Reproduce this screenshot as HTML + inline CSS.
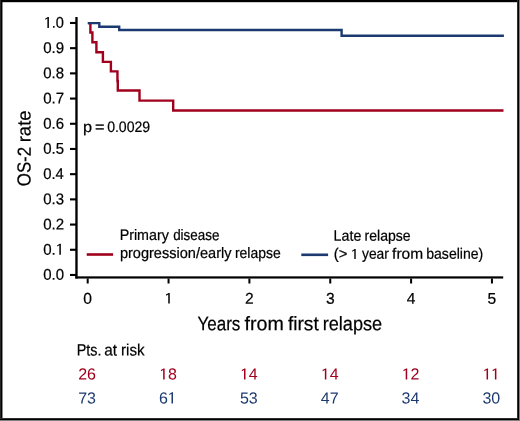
<!DOCTYPE html>
<html><head><meta charset="utf-8"><style>
html,body{margin:0;padding:0;background:#fff;overflow:hidden;}
svg{display:block;will-change:transform;text-rendering:geometricPrecision;font-family:"Liberation Sans", sans-serif;}
text[fill="#000"]{stroke:#000;stroke-width:0.22px;}
</style></head><body>
<svg width="520" height="421" viewBox="0 0 520 421" font-family='"Liberation Sans", sans-serif'><rect x="0" y="0" width="520" height="421" fill="#fff"/>
<rect x="0" y="0" width="520" height="2" fill="#000"/>
<rect x="0" y="2" width="520" height="1" fill="#000" fill-opacity="0.2"/>
<rect x="0" y="0" width="1" height="421" fill="#262626"/>
<rect x="1" y="0" width="1" height="421" fill="#000"/>
<rect x="2" y="2" width="1" height="417" fill="#000" fill-opacity="0.45"/>
<rect x="517" y="0" width="1" height="421" fill="#303030"/>
<rect x="518" y="0" width="1" height="421" fill="#000"/>
<rect x="519" y="0" width="1" height="421" fill="#808080"/>
<rect x="0" y="418" width="517" height="1" fill="#303030"/>
<rect x="0" y="419" width="519" height="1" fill="#000"/>
<rect x="0" y="420" width="520" height="1" fill="#808080"/>
<rect x="75.3" y="17" width="2.35" height="261.5" fill="#000"/>
<rect x="75.3" y="276.35" width="427.9" height="2.2" fill="#000"/>
<rect x="70" y="21.92" width="6" height="2.1" fill="#000"/>
<rect x="70" y="47.12" width="6" height="2.1" fill="#000"/>
<rect x="70" y="72.32" width="6" height="2.1" fill="#000"/>
<rect x="70" y="97.52" width="6" height="2.1" fill="#000"/>
<rect x="70" y="122.72" width="6" height="2.1" fill="#000"/>
<rect x="70" y="147.92" width="6" height="2.1" fill="#000"/>
<rect x="70" y="173.12" width="6" height="2.1" fill="#000"/>
<rect x="70" y="198.32" width="6" height="2.1" fill="#000"/>
<rect x="70" y="223.52" width="6" height="2.1" fill="#000"/>
<rect x="70" y="248.72" width="6" height="2.1" fill="#000"/>
<rect x="70" y="273.92" width="6" height="2.1" fill="#000"/>
<rect x="86.70" y="278.5" width="2" height="5" fill="#000"/>
<rect x="167.55" y="278.5" width="2" height="5" fill="#000"/>
<rect x="248.40" y="278.5" width="2" height="5" fill="#000"/>
<rect x="329.25" y="278.5" width="2" height="5" fill="#000"/>
<rect x="410.10" y="278.5" width="2" height="5" fill="#000"/>
<rect x="490.95" y="278.5" width="2" height="5" fill="#000"/>
<polyline points="88,23.1 90.4,23.1 90.4,32.5 92.4,32.5 92.4,42.3 96.4,42.3 96.4,52.3 102.9,52.3 102.9,61.9 110.9,61.9 110.9,71.4 117.45,71.4 117.45,81.0 117.8,81.0 117.8,90.5 139.5,90.5 139.5,100.6 173.2,100.6 173.2,110.5 503.5,110.5" fill="none" stroke="#a0001c" stroke-width="2.4" stroke-linejoin="miter" stroke-linecap="butt"/>
<polyline points="87.7,23.1 99.3,23.1 99.3,26.8 119.2,26.8 119.2,30.0 341.6,30.0 341.6,35.8 503.9,35.8" fill="none" stroke="#1c3a70" stroke-width="2.4" stroke-linejoin="miter" stroke-linecap="butt"/>
<rect x="86.7" y="253.2" width="26.4" height="2.6" fill="#a0001c"/>
<rect x="301.3" y="253.5" width="26.8" height="2.6" fill="#1c3a70"/>
<text x="197.49" y="330.30" font-size="19.6" fill="#000" textLength="42.90" lengthAdjust="spacingAndGlyphs" transform="rotate(0.05,197.49,330.30)">Years</text>
<text x="244.60" y="330.30" font-size="19.6" fill="#000" textLength="39.27" lengthAdjust="spacingAndGlyphs" transform="rotate(0.05,244.60,330.30)">from</text>
<text x="287.91" y="330.30" font-size="19.6" fill="#000" textLength="30.80" lengthAdjust="spacingAndGlyphs" transform="rotate(0.05,287.91,330.30)">first</text>
<text x="322.73" y="330.30" font-size="19.6" fill="#000" textLength="59.47" lengthAdjust="spacingAndGlyphs" transform="rotate(0.05,322.73,330.30)">relapse</text>
<text x="76.75" y="355.60" font-size="16.4" fill="#000" textLength="24.78" lengthAdjust="spacingAndGlyphs" transform="rotate(0.05,76.75,355.60)">Pts.</text>
<text x="104.29" y="355.60" font-size="16.4" fill="#000" textLength="12.77" lengthAdjust="spacingAndGlyphs" transform="rotate(0.05,104.29,355.60)">at</text>
<text x="121.04" y="355.60" font-size="16.4" fill="#000" textLength="23.54" lengthAdjust="spacingAndGlyphs" transform="rotate(0.05,121.04,355.60)">risk</text>
<text x="83.03" y="131.95" font-size="15.2" fill="#000" textLength="9.06" lengthAdjust="spacingAndGlyphs" transform="rotate(0.05,83.03,131.95)">p</text>
<text x="95.03" y="131.95" font-size="15.2" fill="#000" textLength="9.51" lengthAdjust="spacingAndGlyphs" transform="rotate(0.05,95.03,131.95)">=</text>
<text x="107.14" y="131.95" font-size="15.2" fill="#000" textLength="43.05" lengthAdjust="spacingAndGlyphs" transform="rotate(0.05,107.14,131.95)">0.0029</text>
<text x="119.66" y="240.10" font-size="15.1" fill="#000" textLength="49.21" lengthAdjust="spacingAndGlyphs" transform="rotate(0.05,119.66,240.10)">Primary</text>
<text x="173.16" y="240.10" font-size="15.1" fill="#000" textLength="46.27" lengthAdjust="spacingAndGlyphs" transform="rotate(0.05,173.16,240.10)">disease</text>
<text x="119.88" y="257.90" font-size="15.1" fill="#000" textLength="111.63" lengthAdjust="spacingAndGlyphs" transform="rotate(0.05,119.88,257.90)">progression/early</text>
<text x="234.92" y="257.90" font-size="15.1" fill="#000" textLength="45.77" lengthAdjust="spacingAndGlyphs" transform="rotate(0.05,234.92,257.90)">relapse</text>
<text x="333.61" y="240.80" font-size="15.1" fill="#000" textLength="27.75" lengthAdjust="spacingAndGlyphs" transform="rotate(0.05,333.61,240.80)">Late</text>
<text x="364.52" y="240.80" font-size="15.1" fill="#000" textLength="46.08" lengthAdjust="spacingAndGlyphs" transform="rotate(0.05,364.52,240.80)">relapse</text>
<text x="333.71" y="258.80" font-size="15.1" fill="#000" textLength="13.59" lengthAdjust="spacingAndGlyphs" transform="rotate(0.05,333.71,258.80)">(&gt;</text>
<text x="362.00" y="258.80" font-size="15.1" fill="#000" textLength="26.91" lengthAdjust="spacingAndGlyphs" transform="rotate(0.05,362.00,258.80)">year</text>
<text x="392.14" y="258.80" font-size="15.1" fill="#000" textLength="31.04" lengthAdjust="spacingAndGlyphs" transform="rotate(0.05,392.14,258.80)">from</text>
<text x="426.22" y="258.80" font-size="15.1" fill="#000" textLength="57.10" lengthAdjust="spacingAndGlyphs" transform="rotate(0.05,426.22,258.80)">baseline)</text>
<text x="43.73" y="27.87" font-size="15.5" fill="#000" textLength="20.25" lengthAdjust="spacingAndGlyphs" transform="rotate(0.05,43.73,27.87)"><tspan visibility="hidden">1</tspan>.0</text>
<text x="43.20" y="53.07" font-size="15.5" fill="#000" textLength="20.96" lengthAdjust="spacingAndGlyphs" transform="rotate(0.05,43.20,53.07)">0.9</text>
<text x="43.20" y="78.27" font-size="15.5" fill="#000" textLength="20.80" lengthAdjust="spacingAndGlyphs" transform="rotate(0.05,43.20,78.27)">0.8</text>
<text x="43.20" y="103.47" font-size="15.5" fill="#000" textLength="20.96" lengthAdjust="spacingAndGlyphs" transform="rotate(0.05,43.20,103.47)">0.7</text>
<text x="43.20" y="128.67" font-size="15.5" fill="#000" textLength="20.80" lengthAdjust="spacingAndGlyphs" transform="rotate(0.05,43.20,128.67)">0.6</text>
<text x="43.20" y="153.87" font-size="15.5" fill="#000" textLength="20.80" lengthAdjust="spacingAndGlyphs" transform="rotate(0.05,43.20,153.87)">0.5</text>
<text x="43.21" y="179.07" font-size="15.5" fill="#000" textLength="20.64" lengthAdjust="spacingAndGlyphs" transform="rotate(0.05,43.21,179.07)">0.4</text>
<text x="43.20" y="204.27" font-size="15.5" fill="#000" textLength="20.80" lengthAdjust="spacingAndGlyphs" transform="rotate(0.05,43.20,204.27)">0.3</text>
<text x="43.20" y="229.47" font-size="15.5" fill="#000" textLength="20.96" lengthAdjust="spacingAndGlyphs" transform="rotate(0.05,43.20,229.47)">0.2</text>
<text x="43.20" y="254.67" font-size="15.5" fill="#000" textLength="20.96" lengthAdjust="spacingAndGlyphs" transform="rotate(0.05,43.20,254.67)">0.<tspan visibility="hidden">1</tspan></text>
<text x="43.20" y="279.87" font-size="15.5" fill="#000" textLength="20.80" lengthAdjust="spacingAndGlyphs" transform="rotate(0.05,43.20,279.87)">0.0</text>
<g transform="translate(30.6,0) rotate(-90)"><text x="-186.24" y="0.00" font-size="18.9" fill="#000" textLength="39.35" lengthAdjust="spacingAndGlyphs" transform="rotate(0.05,-186.24,0.00)">OS-2</text></g>
<g transform="translate(30.6,0) rotate(-90)"><text x="-142.30" y="0.00" font-size="18.9" fill="#000" textLength="31.90" lengthAdjust="spacingAndGlyphs" transform="rotate(0.05,-142.30,0.00)">rate</text></g>
<text x="87.70" y="303.65" font-size="15.6" fill="#000" text-anchor="middle" transform="rotate(0.05,87.70,303.65)">0</text>
<text x="168.55" y="303.65" font-size="15.6" fill="#000" text-anchor="middle" transform="rotate(0.05,168.55,303.65)"><tspan visibility="hidden">1</tspan></text>
<text x="249.40" y="303.65" font-size="15.6" fill="#000" text-anchor="middle" transform="rotate(0.05,249.40,303.65)">2</text>
<text x="330.25" y="303.65" font-size="15.6" fill="#000" text-anchor="middle" transform="rotate(0.05,330.25,303.65)">3</text>
<text x="411.10" y="303.65" font-size="15.6" fill="#000" text-anchor="middle" transform="rotate(0.05,411.10,303.65)">4</text>
<text x="491.95" y="303.65" font-size="15.6" fill="#000" text-anchor="middle" transform="rotate(0.05,491.95,303.65)">5</text>
<text x="87.10" y="379.5" font-size="16" fill="#a0001c" text-anchor="middle" transform="rotate(0.05,87.10,379.5)">26</text>
<text x="87.10" y="403.5" font-size="16" fill="#1c3a70" text-anchor="middle" transform="rotate(0.05,87.10,403.5)">73</text>
<text x="167.95" y="379.5" font-size="16" fill="#a0001c" text-anchor="middle" transform="rotate(0.05,167.95,379.5)"><tspan visibility="hidden">1</tspan>8</text>
<text x="167.95" y="403.5" font-size="16" fill="#1c3a70" text-anchor="middle" transform="rotate(0.05,167.95,403.5)">6<tspan visibility="hidden">1</tspan></text>
<text x="248.80" y="379.5" font-size="16" fill="#a0001c" text-anchor="middle" transform="rotate(0.05,248.80,379.5)"><tspan visibility="hidden">1</tspan>4</text>
<text x="248.80" y="403.5" font-size="16" fill="#1c3a70" text-anchor="middle" transform="rotate(0.05,248.80,403.5)">53</text>
<text x="329.65" y="379.5" font-size="16" fill="#a0001c" text-anchor="middle" transform="rotate(0.05,329.65,379.5)"><tspan visibility="hidden">1</tspan>4</text>
<text x="329.65" y="403.5" font-size="16" fill="#1c3a70" text-anchor="middle" transform="rotate(0.05,329.65,403.5)">47</text>
<text x="410.50" y="379.5" font-size="16" fill="#a0001c" text-anchor="middle" transform="rotate(0.05,410.50,379.5)"><tspan visibility="hidden">1</tspan>2</text>
<text x="410.50" y="403.5" font-size="16" fill="#1c3a70" text-anchor="middle" transform="rotate(0.05,410.50,403.5)">34</text>
<text x="491.35" y="379.5" font-size="16" fill="#a0001c" text-anchor="middle" transform="rotate(0.05,491.35,379.5)"><tspan visibility="hidden">1</tspan><tspan visibility="hidden">1</tspan></text>
<text x="491.35" y="403.5" font-size="16" fill="#1c3a70" text-anchor="middle" transform="rotate(0.05,491.35,403.5)">30</text>
<path d="M169.75,292.90L169.75,303.60L168.25,303.60L168.25,294.45L166.15,295.70L165.95,294.60L168.70,292.90Z" fill="#000"/>
<path d="M164.65,368.40L164.65,379.60L163.15,379.60L163.15,369.95L161.05,371.20L160.85,370.10L163.60,368.40Z" fill="#a0001c"/>
<path d="M173.00,392.30L173.00,403.60L171.50,403.60L171.50,393.85L169.40,395.10L169.20,394.00L171.95,392.30Z" fill="#1c3a70"/>
<path d="M245.50,368.40L245.50,379.60L244.00,379.60L244.00,369.95L241.90,371.20L241.70,370.10L244.45,368.40Z" fill="#a0001c"/>
<path d="M326.35,368.40L326.35,379.60L324.85,379.60L324.85,369.95L322.75,371.20L322.55,370.10L325.30,368.40Z" fill="#a0001c"/>
<path d="M407.20,368.40L407.20,379.60L405.70,379.60L405.70,369.95L403.60,371.20L403.40,370.10L406.15,368.40Z" fill="#a0001c"/>
<path d="M488.05,368.40L488.05,379.60L486.55,379.60L486.55,369.95L484.45,371.20L484.25,370.10L487.00,368.40Z" fill="#a0001c"/>
<path d="M496.40,368.40L496.40,379.60L494.90,379.60L494.90,369.95L492.80,371.20L492.60,370.10L495.35,368.40Z" fill="#a0001c"/>
<path d="M48.90,17.00L48.90,27.90L47.40,27.90L47.40,18.55L45.30,19.80L45.10,18.70L47.85,17.00Z" fill="#000"/>
<path d="M60.85,243.70L60.85,254.80L59.35,254.80L59.35,245.25L57.25,246.50L57.05,245.40L59.80,243.70Z" fill="#000"/>
<path d="M355.70,249.00L355.70,258.90L354.30,258.90L354.30,250.55L352.30,251.80L352.10,250.70L354.70,249.00Z" fill="#000"/></svg>
</body></html>
